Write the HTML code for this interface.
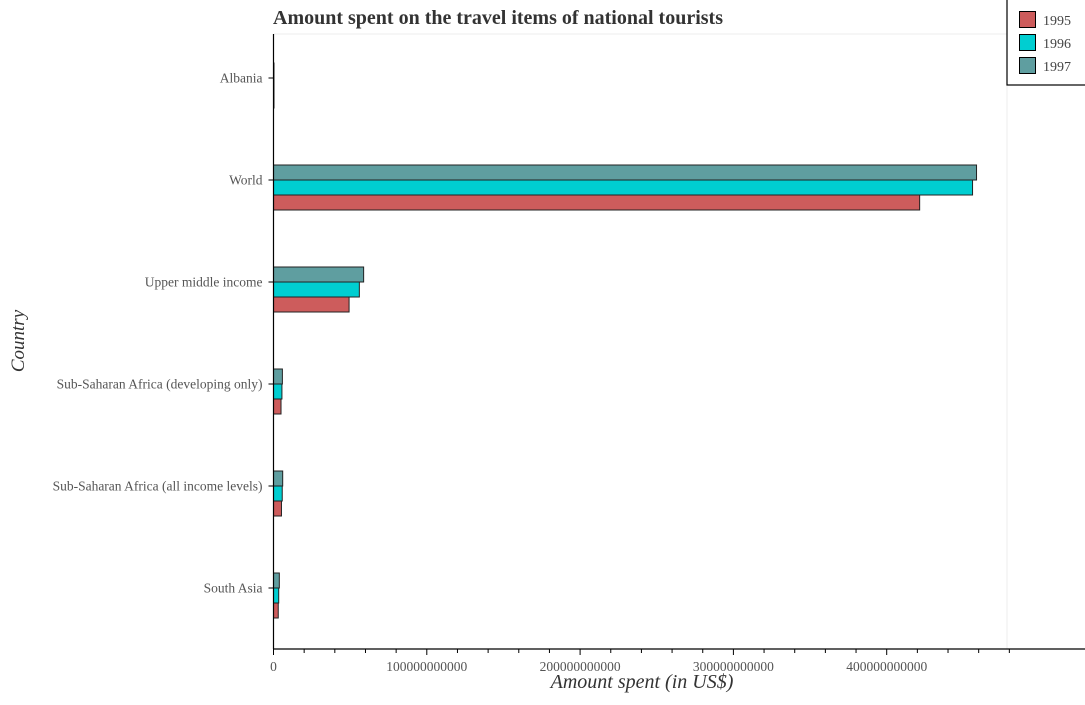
<!DOCTYPE html>
<html><head><meta charset="utf-8"><style>
body{margin:0;background:#fff;font-family:"Liberation Serif",serif;}
svg text{font-family:"Liberation Serif",serif;}
</style></head><body>
<svg id="chart" width="1085" height="700" xmlns="http://www.w3.org/2000/svg">
<text x="273" y="24" text-anchor="start" font-size="20" font-weight="bold" fill="#333">Amount spent on the travel items of national tourists</text>
<line x1="273.5" y1="34" x2="1007" y2="34" stroke="#eee" stroke-width="1"/>
<line x1="1007" y1="85" x2="1007" y2="649" stroke="#eee" stroke-width="1"/>
<g id="bars"></g>
<line x1="273.5" y1="34" x2="273.5" y2="649" stroke="#000" stroke-width="1.2"/>
<line x1="273.5" y1="649" x2="1085" y2="649" stroke="#000" stroke-width="1.2"/>
<g id="axes"></g>
<text x="642" y="688" text-anchor="middle" font-size="20" font-style="italic" fill="#333">Amount spent (in US$)</text>
<text transform="translate(24,341) rotate(-90)" text-anchor="middle" font-size="19" font-style="italic" fill="#333">Country</text>
<g>
<rect x="1007" y="-1" width="80" height="86" fill="#fff" stroke="#000" stroke-width="1.2"/>
<rect x="1019.5" y="11.5" width="16" height="16" fill="#CD5C5C" stroke="#000"/>
<text x="1043" y="25" font-size="14" fill="#444">1995</text>
<rect x="1019.5" y="34.5" width="16" height="16" fill="#00CED1" stroke="#000"/>
<text x="1043" y="48" font-size="14" fill="#444">1996</text>
<rect x="1019.5" y="57.5" width="16" height="16" fill="#5F9EA0" stroke="#000"/>
<text x="1043" y="71" font-size="14" fill="#444">1997</text>
</g>
</svg>
<script>
const categories = ["South Asia","Sub-Saharan Africa (all income levels)","Sub-Saharan Africa (developing only)","Upper middle income","World","Albania"];
const v1995 = [3.1e9, 5.2e9, 4.9e9, 49.3e9, 421.5e9, 0.07e9];
const v1996 = [3.4e9, 5.7e9, 5.5e9, 56.0e9, 456.0e9, 0.07e9];
const v1997 = [3.8e9, 6.0e9, 5.8e9, 58.8e9, 458.6e9, 0.07e9];
const xTicks = [0, 100e9, 200e9, 300e9, 400e9];
const xTickLabels = ["0","100000000000","200000000000","300000000000","400000000000"];
const NS="http://www.w3.org/2000/svg";
const x0=273.5, pxPerUnit=1.533/1e9;
function xs(v){return x0+v*pxPerUnit;}
function ys(i){return 588-i*102;}
const bars=document.getElementById('bars'), axes=document.getElementById('axes');
function mk(tag,attrs,parent){const e=document.createElementNS(NS,tag);for(const k in attrs)e.setAttribute(k,attrs[k]);parent.appendChild(e);return e;}
const series=[[v1997,"#5F9EA0",-15,"1997"],[v1996,"#00CED1",0,"1996"],[v1995,"#CD5C5C",15,"1995"]];
categories.forEach((c,i)=>{
  const yc=ys(i);
  series.forEach(s=>{
    const w=Math.max(xs(s[0][i])-x0,0.5);
    const r=mk('rect',{x:x0,y:yc+s[2],width:w,height:15,fill:s[1],stroke:"#222","stroke-width":1},bars);
    
    
  });
  mk('line',{x1:x0-5,y1:yc,x2:x0,y2:yc,stroke:"#000"},axes);
  const l=mk('text',{x:x0-11,y:yc+4.5,"text-anchor":"end","font-size":13.5,fill:"#555"},axes);
  l.textContent=c;
  
  
});
for(let v=0; v<=480e9; v+=20e9){
  const major = v%100e9===0;
  mk('line',{x1:xs(v),y1:649,x2:xs(v),y2:major?655:653,stroke:"#000"},axes);
}
xTicks.forEach((v,i)=>{
  const l=mk('text',{x:xs(v),y:671,"text-anchor":"middle","font-size":13.5,fill:"#555"},axes);
  l.textContent=xTickLabels[i];
  
  
});
</script>
</body></html>
